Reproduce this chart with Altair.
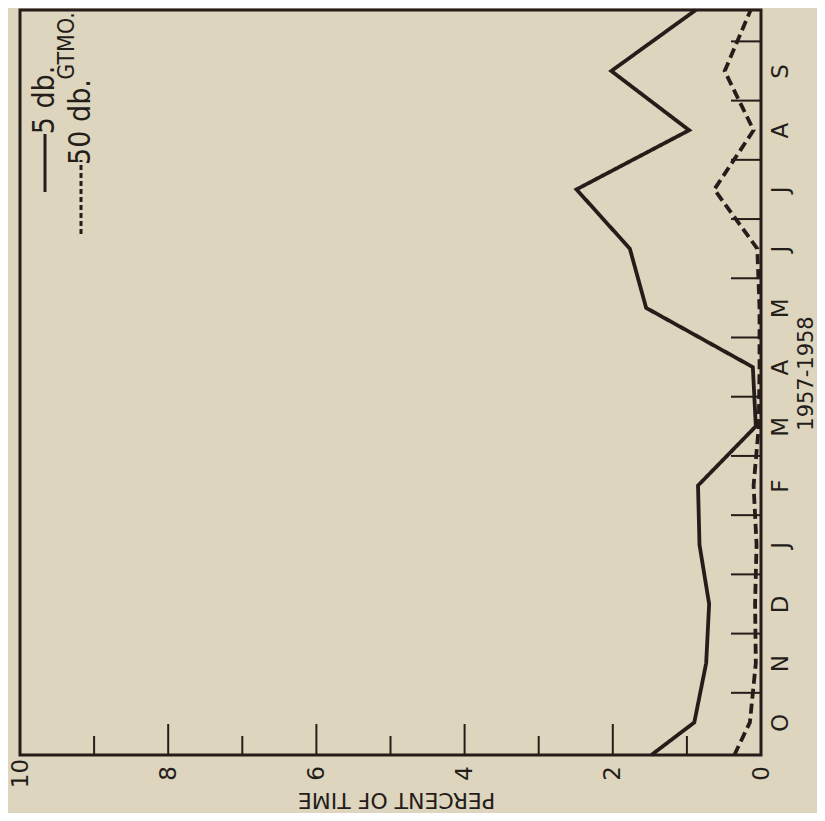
import altair as alt
import pandas as pd

# ---- data ----
months = ["O", "N", "D", "J", "F", "M", "A", "M", "J", "J", "A", "S"]
month_pos = list(range(12))
edge_pos = [-0.55, 12.03]          # where the curves meet the frame
solid_vals = [0.90, 0.74, 0.70, 0.83, 0.85, 0.07, 0.11, 1.55, 1.77, 2.49, 0.97, 2.02]
solid_edges = [1.48, 0.88]
dashed_vals = [0.15, 0.07, 0.08, 0.06, 0.10, 0.03, 0.02, 0.02, 0.05, 0.63, 0.10, 0.49]
dashed_edges = [0.36, 0.14]
pct_major = [2, 4, 6, 8]
pct_minor = [1, 3, 5, 7, 9]
pct_labels = [0, 2, 4, 6, 8, 10]
month_bounds = [i + 0.5 for i in range(12)]
series_names = ["5 db.", "50 db."]
station = "GTMO."

rows = []
for name, vals, edges in [(series_names[0], solid_vals, solid_edges),
                          (series_names[1], dashed_vals, dashed_edges)]:
    rows.append({"series": name, "t": edge_pos[0], "pct": edges[0]})
    for p, v in zip(month_pos, vals):
        rows.append({"series": name, "t": p, "pct": v})
    rows.append({"series": name, "t": edge_pos[1], "pct": edges[1]})
df = pd.DataFrame(rows)

INK = "#241d1a"
PAPER = "#ddd5bd"
FONT = "DejaVu Sans"
NARROW = "Liberation Sans Narrow, DejaVu Sans Condensed, Roboto Condensed, DejaVu Sans"

W, H = 741, 745

xscale = alt.Scale(domain=[0, 10], reverse=True, nice=False, zero=False)
yscale = alt.Scale(domain=[edge_pos[0], edge_pos[1]], nice=False, zero=False)

label_expr = "[" + ",".join("'%s'" % m for m in months) + "][datum.value]"

lines = alt.Chart(df).mark_line(strokeWidth=3.8, color=INK, strokeJoin="miter").encode(
    x=alt.X("pct:Q", scale=xscale, axis=alt.Axis(
        values=pct_labels, labelAngle=270, labelFontSize=23, labelPadding=18,
        labelAlign="center", labelBaseline="middle", labelFlush=False,
        labelOverlap=False, labelColor=INK, labelFont=FONT,
        tickSize=0, domain=False, grid=False,
        title="PERCENT OF TIME", titleAngle=180, titleFontSize=22,
        titleFont=FONT, titleFontWeight="normal", titleColor=INK,
        titleAlign="center", titleBaseline="middle", titleX=376, titleY=44)),
    y=alt.Y("t:Q", scale=yscale, axis=alt.Axis(
        orient="right", values=month_pos, labelExpr=label_expr,
        labelAngle=270, labelFontSize=23, labelPadding=19,
        labelAlign="center", labelBaseline="middle", labelFlush=False,
        labelOverlap=False, labelColor=INK, labelFont=FONT,
        tickSize=0, domain=False, grid=False,
        title="1957-1958", titleAngle=270, titleFontSize=21,
        titleFont=FONT, titleFontWeight="normal", titleColor=INK,
        titleAlign="center", titleBaseline="middle", titleX=45, titleY=363)),
    strokeDash=alt.StrokeDash("series:N", scale=alt.Scale(
        domain=series_names, range=[[1, 0], [10, 5]]), legend=None),
    order="t:Q",
)

major = alt.Chart(pd.DataFrame({"pct": pct_major})).mark_rule(
    color=INK, strokeWidth=2).encode(
    x=alt.X("pct:Q", scale=xscale, axis=None),
    y=alt.value(H), y2=alt.value(H - 31))
minor = alt.Chart(pd.DataFrame({"pct": pct_minor})).mark_rule(
    color=INK, strokeWidth=2).encode(
    x=alt.X("pct:Q", scale=xscale, axis=None),
    y=alt.value(H), y2=alt.value(H - 19))
mticks = alt.Chart(pd.DataFrame({"t": month_bounds})).mark_rule(
    color=INK, strokeWidth=2).encode(
    y=alt.Y("t:Q", scale=yscale, axis=None),
    x=alt.value(W), x2=alt.value(W - 30))

# legend (drawn by hand, rotated like the rest of the figure)
leg_solid = alt.Chart(pd.DataFrame({"s": [series_names[0]]})).mark_rule(
    color=INK, strokeWidth=3).encode(
    x=alt.value(25), y=alt.value(182), y2=alt.value(124))
leg_dash = alt.Chart(pd.DataFrame({"s": [series_names[1]]})).mark_rule(
    color=INK, strokeWidth=3, strokeDash=[5, 3]).encode(
    x=alt.value(61), y=alt.value(224), y2=alt.value(150))
txt5 = alt.Chart(pd.DataFrame({"label": [series_names[0]]})).mark_text(
    angle=270, align="center", baseline="middle", fontSize=30,
    font=NARROW, color=INK).encode(
    text="label:N", x=alt.value(25), y=alt.value(90))
txt50 = alt.Chart(pd.DataFrame({"label": [series_names[1]]})).mark_text(
    angle=270, align="center", baseline="middle", fontSize=30,
    font=NARROW, color=INK).encode(
    text="label:N", x=alt.value(61), y=alt.value(112))
gtmo = alt.Chart(pd.DataFrame({"label": [station]})).mark_text(
    angle=270, align="center", baseline="middle", fontSize=23,
    font=NARROW, color=INK).encode(
    text="label:N", x=alt.value(47), y=alt.value(36))

chart = alt.layer(major, minor, mticks, lines, leg_solid, leg_dash, txt5, txt50, gtmo).resolve_scale(
    x="independent", y="independent"
).properties(
    width=W, height=H,
    autosize=alt.AutoSizeParams(type="none"),
    padding={"left": 12, "top": 2, "right": 56, "bottom": 58},
    background=PAPER,
).configure_view(
    stroke=INK, strokeWidth=3, fill=PAPER
)

chart.save("out.html", embed_options={"renderer": "svg", "actions": False})
